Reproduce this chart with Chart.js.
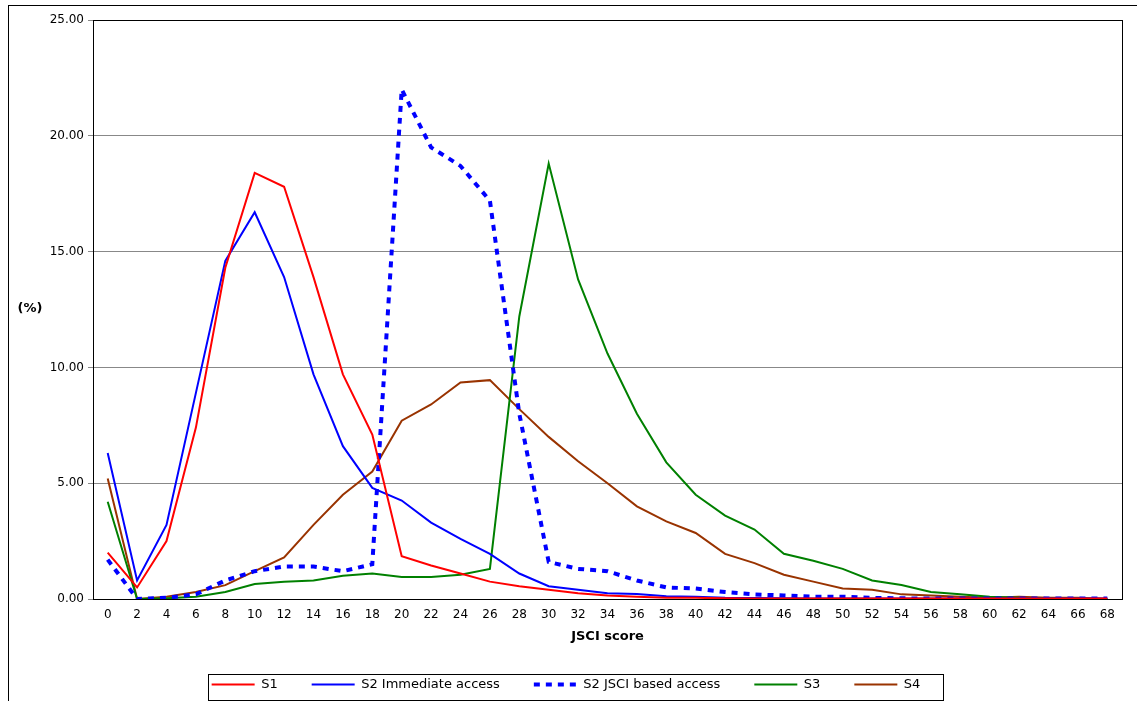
<!doctype html>
<html>
<head>
<meta charset="utf-8">
<style>
  body { margin:0; background:#fff; }
  .wrap { position:absolute; left:8px; top:5px; width:1140px; height:710px; border:1px solid #000; box-sizing:border-box; }
  canvas { position:absolute; left:0; top:0; }
</style>
</head>
<body>
<div class="wrap"></div>
<canvas id="c" width="1137" height="701"></canvas>
<script src="https://cdn.jsdelivr.net/npm/chart.js"></script>
<script>
const scores = [];
for (let s = 0; s <= 68; s += 2) scores.push(String(s));

const s1 = [2.0,0.5,2.5,7.4,14.3,18.4,17.8,13.9,9.7,7.1,1.85,1.45,1.1,0.75,0.55,0.4,0.25,0.15,0.1,0.05,0.05,0.03,0.02,0.02,0.02,0.02,0.02,0.02,0.02,0.02,0.02,0.02,0.02,0.02,0.02];
const s2Immediate = [6.3,0.8,3.2,8.9,14.6,16.7,13.9,9.7,6.6,4.8,4.25,3.3,2.6,1.95,1.1,0.55,0.4,0.25,0.22,0.12,0.1,0.05,0.04,0.03,0.02,0.02,0.02,0.02,0.02,0.02,0.02,0.02,0.02,0.02,0.02];
const s2Jsci = [1.7,0.0,0.05,0.2,0.8,1.2,1.4,1.4,1.2,1.5,22.0,19.5,18.7,17.2,8.0,1.6,1.3,1.2,0.8,0.5,0.45,0.3,0.2,0.15,0.1,0.1,0.05,0.03,0.02,0.02,0.02,0.02,0.02,0.02,0.02];
const s3 = [4.2,0.0,0.03,0.1,0.3,0.65,0.75,0.8,1.0,1.1,0.95,0.95,1.05,1.3,12.2,18.8,13.8,10.6,8.0,5.9,4.5,3.6,3.0,1.95,1.65,1.3,0.8,0.6,0.3,0.2,0.1,0.05,0.03,0.02,0.0];
const s4 = [5.2,0.0,0.1,0.3,0.6,1.2,1.8,3.2,4.5,5.5,7.7,8.4,9.35,9.45,8.2,7.0,5.95,5.0,4.0,3.35,2.85,1.95,1.55,1.05,0.75,0.45,0.4,0.2,0.15,0.1,0.05,0.1,0.05,0.05,0.0];
const yTicks = [0,5,10,15,20,25];

const font = "'DejaVu Sans', Verdana, sans-serif";
Chart.defaults.font.family = font;
Chart.defaults.font.size = 12;
Chart.defaults.color = '#000';

function line(label, data, color, dash) {
  return { label, data, borderColor: color, backgroundColor: color, borderWidth: dash ? 4 : 2,
    borderDash: dash || [], pointRadius: 0, tension: 0, fill: false };
}

const extras = {
  id: 'extras',
  afterDraw(chart) {
    const ctx = chart.ctx, a = chart.chartArea;
    ctx.save();
    ctx.strokeStyle = '#000'; ctx.lineWidth = 1;
    ctx.strokeRect(a.left + 0.5, a.top + 0.5, a.right - a.left, a.bottom - a.top);
    ctx.font = 'bold 13px ' + font;
    ctx.fillStyle = '#000';
    ctx.textAlign = 'center'; ctx.textBaseline = 'middle';
    ctx.fillText('(%)', 30, 309);
    ctx.fillText('JSCI score', (a.left + a.right) / 2, 637);
    ctx.strokeRect(208.5, 674.5, 735, 26);
    ctx.restore();
  }
};

new Chart(document.getElementById('c'), {
  type: 'line',
  data: {
    labels: scores,
    datasets: [
      line('S1', s1, '#ff0000'),
      line('S2 Immediate access', s2Immediate, '#0000ff'),
      line('S2 JSCI based access', s2Jsci, '#0000ff', [6, 6]),
      line('S3', s3, '#008000'),
      line('S4', s4, '#993300')
    ]
  },
  options: {
    responsive: false,
    animation: false,
    layout: { padding: { left: 10, right: 15, top: 20, bottom: 0 } },
    plugins: {
      tooltip: { enabled: false },
      legend: {
        position: 'bottom',
        labels: {
          usePointStyle: true, pointStyle: 'line', pointStyleWidth: 43, boxWidth: 43, padding: 34,
          font: { size: 13 },
          generateLabels(chart) {
            return chart.data.datasets.map((d, i) => ({
              text: d.label, strokeStyle: d.borderColor, fillStyle: d.borderColor,
              lineWidth: d.borderDash.length ? 4 : 2, lineDash: d.borderDash,
              pointStyle: 'line', datasetIndex: i, hidden: false
            }));
          }
        }
      }
    },
    scales: {
      x: {
        offset: true,
        grid: { display: false, drawOnChartArea: false, offset: true, tickLength: 5, color: '#000' },
        border: { color: '#000' },
        ticks: { maxRotation: 0, autoSkip: false, padding: 4 },
        afterFit(s) { s.height = 45; }
      },
      y: {
        min: 0, max: 25,
        afterBuildTicks(s) { s.ticks = yTicks.map(v => ({ value: v })); },
        grid: { color: '#888', tickLength: 5 },
        border: { color: '#000' },
        ticks: { callback: v => v.toFixed(2), padding: 4 },
        afterFit(s) { s.width = 83; }
      }
    }
  },
  plugins: [extras]
});
</script>
</body>
</html>
